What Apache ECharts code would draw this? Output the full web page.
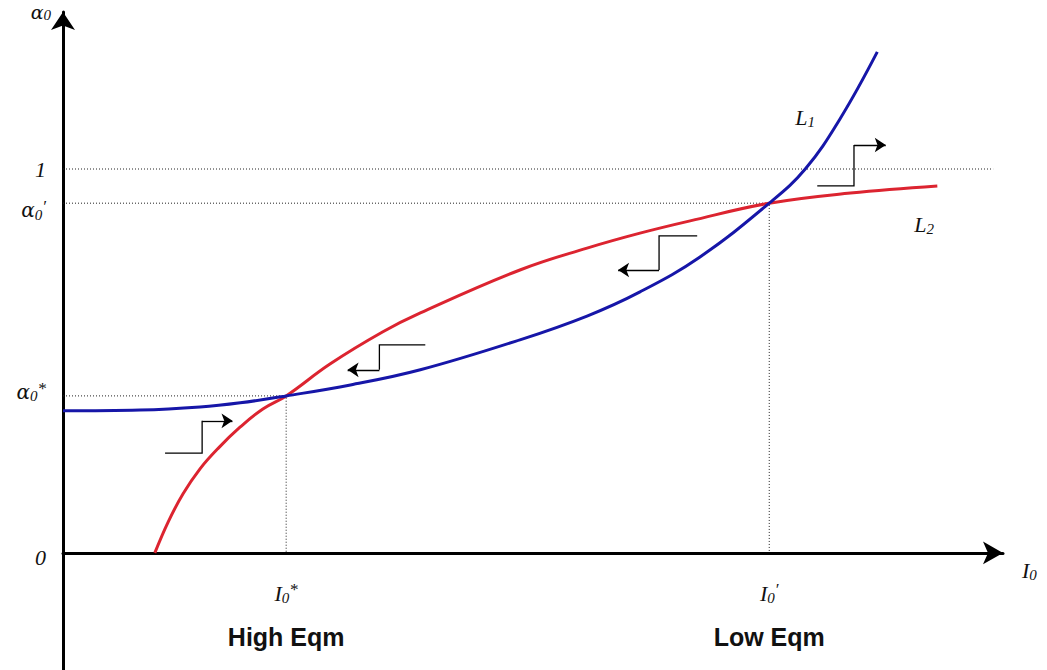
<!DOCTYPE html>
<html>
<head>
<meta charset="utf-8">
<script src="https://cdn.jsdelivr.net/npm/echarts@6/dist/echarts.min.js"></script>
<style>
html,body{margin:0;padding:0;background:#fff;}
#chart{width:1047px;height:670px;}
</style>
</head>
<body>
<div id="chart"></div>
<script>
// ---- equilibrium values (axis units) ----
const I0Star = 0.316;
const I0Prime = 1.0;
const alphaStar = 0.409;
const alphaPrime = 0.911;
const alphaOne = 1.0;
const oneLineEnd = 1.317;

// ---- axis ranges ----
const xRange = [0, 1.331];
const yRange = [-0.305, 1.409];

// ---- curve L1 (blue) ----
const l1X = [0, 0.109, 0.194, 0.251, 0.316, 0.407, 0.506, 0.647, 0.742, 0.817, 0.902, 1.0, 1.051, 1.101, 1.153];
const l1Y = [0.370, 0.372, 0.380, 0.391, 0.409, 0.4375, 0.477, 0.555, 0.617, 0.680, 0.771, 0.911, 1.0, 1.133, 1.305];

// ---- curve L2 (red) ----
const l2X = [0.130, 0.149, 0.170, 0.194, 0.220, 0.251, 0.283, 0.316, 0.378, 0.453, 0.506, 0.647, 0.742, 0.817, 0.888, 1.0, 1.115, 1.238];
const l2Y = [0, 0.081, 0.154, 0.219, 0.273, 0.328, 0.375, 0.409, 0.492, 0.576, 0.625, 0.737, 0.794, 0.833, 0.865, 0.911, 0.9375, 0.956];

// ---- step arrows (x and y of corners, last point = arrow head) ----
const stepArrowX = [
  [0.1445, 0.197, 0.197, 0.240],
  [0.513, 0.448, 0.448, 0.403],
  [0.898, 0.844, 0.844, 0.786],
  [1.068, 1.120, 1.120, 1.165]
];
const stepArrowY = [
  [0.260, 0.260, 0.344, 0.344],
  [0.542, 0.542, 0.477, 0.477],
  [0.826, 0.826, 0.737, 0.737],
  [0.956, 0.956, 1.0625, 1.0625]
];

// ---- tick labels ----
const yTickValues = [0, alphaStar, alphaPrime, alphaOne];
const yTickLabels = ['{gapM|}\n{it|0}', '{gr|α}{sub|0}{sup|*}\n{gapS|}', '{gapL|}\n{gr|α}{sub|0}{sup|′}', '{it|1}'];
const xTickValues = [I0Star, I0Prime];
const xTickLabels = ['{it|I}{sub|0}{sup|*}', '{it|I}{sub|0}{sup|′}'];
const xTickNotes = ['High Eqm', 'Low Eqm'];
const xAxisName = '{it|I}{sub|0}';
const yAxisName = '{grN|α}{sub|0}';
const curveNames = ['{it|L}{sub|1}', '{it|L}{sub|2}'];

// ---- styles ----
const serif = 'Liberation Serif';
const rich = {
  it: {fontFamily: serif, fontStyle: 'italic', fontSize: 22, color: '#111', lineHeight: 24},
  gr: {fontFamily: 'DejaVu Serif', fontStyle: 'italic', fontSize: 20, color: '#111', lineHeight: 24},
  grN: {fontFamily: 'DejaVu Serif', fontStyle: 'italic', fontSize: 19, color: '#111', lineHeight: 20},
  sub: {fontFamily: serif, fontStyle: 'italic', fontSize: 15, color: '#111', lineHeight: 8, verticalAlign: 'bottom'},
  sup: {fontFamily: serif, fontStyle: 'italic', fontSize: 17, color: '#111', lineHeight: 8, verticalAlign: 'top'},
  note: {fontFamily: 'Liberation Sans', fontWeight: 'bold', fontSize: 25, color: '#111', lineHeight: 26, padding: [38, 0, 0, 0]},
  gapS: {fontSize: 1, lineHeight: 8},
  gapM: {fontSize: 1, lineHeight: 10},
  gapL: {fontSize: 1, lineHeight: 14}
};

function pick(values, labels, v) {
  for (let i = 0; i < values.length; i++) {
    if (Math.abs(values[i] - v) < 1e-6) return labels[i];
  }
  return '';
}

const zip = (xs, ys) => xs.map((x, i) => [x, ys[i]]);

const guides = [
  {coords: [[0, alphaStar], [I0Star, alphaStar], [I0Star, 0]]},
  {coords: [[0, alphaPrime], [I0Prime, alphaPrime], [I0Prime, 0]]},
  {coords: [[0, alphaOne], [oneLineEnd, alphaOne]]}
];

const stepBodies = stepArrowX.map((xs, k) => ({coords: zip(xs, stepArrowY[k]).slice(0, 3)}));
const stepHeads = stepArrowX.map((xs, k) => ({coords: zip(xs, stepArrowY[k]).slice(2)}));

const chart = echarts.init(document.getElementById('chart'), null, {renderer: 'svg'});
chart.setOption({
  backgroundColor: '#ffffff',
  animation: false,
  grid: {left: 63, right: 44, top: 12, bottom: 0, containLabel: false, outerBoundsMode: 'none'},
  xAxis: {
    type: 'value', min: xRange[0], max: xRange[1],
    axisLine: {onZero: true, lineStyle: {color: '#000', width: 3}, symbol: ['none', 'arrow'], symbolSize: [17, 20]},
    axisTick: {show: false},
    splitLine: {show: false},
    axisLabel: {show: false},
    name: xAxisName,
    nameLocation: 'end',
    nameGap: 19,
    nameTextStyle: {rich: rich, align: 'left', verticalAlign: 'top', padding: [6, 0, 0, 0]}
  },
  yAxis: {
    type: 'value', min: yRange[0], max: yRange[1],
    axisLine: {onZero: false, lineStyle: {color: '#000', width: 3}, symbol: ['none', 'arrow'], symbolSize: [18, 18]},
    axisTick: {show: false},
    splitLine: {show: false},
    axisLabel: {
      customValues: yTickValues,
      margin: 17,
      rich: rich,
      formatter: v => pick(yTickValues, yTickLabels, v)
    },
    name: yAxisName,
    nameLocation: 'end',
    nameGap: 0,
    nameTextStyle: {rich: rich, align: 'right', verticalAlign: 'middle', padding: [0, 12, 0, 0]}
  },
  series: [
    {
      type: 'lines', coordinateSystem: 'cartesian2d', polyline: true, silent: true,
      lineStyle: {color: '#222', width: 1, type: [1, 2], opacity: 1},
      data: guides, z: 1
    },
    {
      type: 'line', name: 'L1', data: zip(l1X, l1Y), smooth: 0.4, showSymbol: false, symbol: 'none',
      lineStyle: {color: '#1616a8', width: 3}, z: 3,
      endLabel: {show: true, formatter: () => curveNames[0], rich: rich, offset: [-90, 66]}
    },
    {
      type: 'line', name: 'L2', data: zip(l2X, l2Y), smooth: 0.4, showSymbol: false, symbol: 'none',
      lineStyle: {color: '#dc2430', width: 3}, z: 2,
      endLabel: {show: true, formatter: () => curveNames[1], rich: rich, offset: [-31, 39]}
    },
    {
      type: 'scatter', silent: true, symbol: 'circle', symbolSize: 1, z: 5,
      itemStyle: {color: 'rgba(0,0,0,0)', opacity: 1},
      data: xTickValues.map(v => [v, 0]),
      label: {
        show: true, position: 'bottom', distance: 28, rich: rich, align: 'center', color: '#111',
        formatter: p => pick(xTickValues, xTickLabels, p.value[0]) + '\n{note|' + pick(xTickValues, xTickNotes, p.value[0]) + '}'
      },
      labelLayout: {hideOverlap: false}
    },
    {
      type: 'lines', coordinateSystem: 'cartesian2d', polyline: true, silent: true,
      lineStyle: {color: '#000', width: 1.3, opacity: 1},
      data: stepBodies, z: 4
    },
    {
      type: 'lines', coordinateSystem: 'cartesian2d', silent: true,
      symbol: ['none', 'arrow'], symbolSize: 11,
      lineStyle: {color: '#000', width: 1.3, opacity: 1},
      data: stepHeads, z: 4
    }
  ]
});
</script>
</body>
</html>
